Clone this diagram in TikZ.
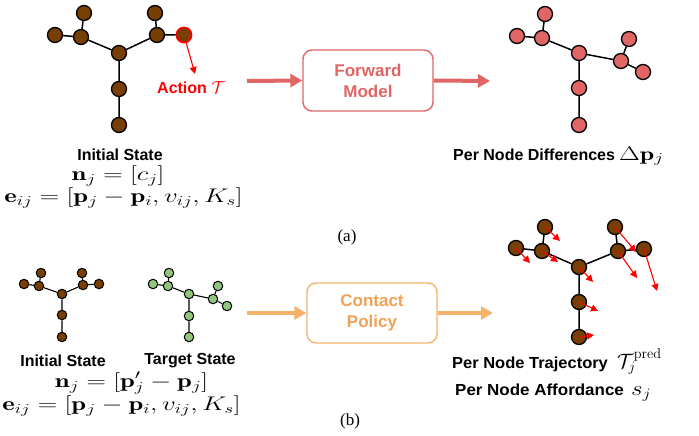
\documentclass[tikz,border=0pt]{standalone}
\usepackage{fontspec}
\usepackage{graphicx}
\usetikzlibrary{arrows.meta}
\newfontfamily\labfont{Liberation Sans}
\newfontfamily\capfont{Liberation Serif}
\definecolor{brownc}{HTML}{783F04}
\definecolor{pinkc}{HTML}{E06666}
\definecolor{greenc}{HTML}{93C47D}
\definecolor{orangec}{HTML}{F6B26B}
\definecolor{orangetxt}{HTML}{EFA155}
% wide set formulas
\newcommand{\wideeq}[1]{\scalebox{1.3}[0.95]{$#1$}}
\tikzset{
  gnode/.style={circle, draw=black, line width=1.3pt, minimum size=15pt, inner sep=0pt},
  bn/.style={gnode, fill=brownc},
  pn/.style={gnode, fill=pinkc},
  sbn/.style={gnode, fill=brownc, minimum size=9.5pt, line width=1pt},
  sgn/.style={gnode, fill=greenc, minimum size=9.5pt, line width=1pt},
  gedge/.style={line width=1.5pt, draw=black},
  sedge/.style={line width=1.1pt, draw=black},
  redarr/.style={draw=red, line width=1.1pt, -{Triangle[length=7pt,width=7pt]}},
  fatarr/.style={line width=4pt, -{Triangle[length=12pt,width=13pt]}},
  modelbox/.style={draw, line width=1.4pt, rounded corners=9pt, minimum width=130pt, minimum height=61pt, align=center, font=\labfont\bfseries\fontsize{17}{21}\selectfont},
  lab/.style={font=\labfont\bfseries\fontsize{16}{19}\selectfont, inner sep=0pt},
  eq/.style={font=\fontsize{20.5}{22}\selectfont, inner sep=0pt},
  captext/.style={font=\capfont\fontsize{17}{20}\selectfont, inner sep=0pt},
}
\begin{document}
\begin{tikzpicture}[x=1pt,y=-1pt]
\useasboundingbox (0,0) rectangle (699,436);

% ---- (a) initial state graph
\node[bn] (a1c)  at (119,53) {};
\node[bn] (a1lj) at (81,37) {};
\node[bn] (a1lu) at (84,13) {};
\node[bn] (a1l)  at (55,35) {};
\node[bn] (a1rj) at (157,35) {};
\node[bn] (a1ru) at (155,13) {};
\node[bn, draw=red, line width=1.8pt] (a1act) at (184,35) {};
\node[bn] (a1m)  at (119,89) {};
\node[bn] (a1b)  at (119,125) {};
\draw[gedge] (a1c) -- (a1lj) (a1lj) -- (a1lu) (a1lj) -- (a1l)
            (a1c) -- (a1rj) (a1rj) -- (a1ru) (a1rj) -- (a1act)
            (a1c) -- (a1m) (a1m) -- (a1b);
\coordinate (acttip) at (195,74);
\draw[redarr] (a1act) -- (acttip);
\node[lab, text=red, anchor=base west] (actlab) at (157,93) {Action {\fontsize{19}{22}\selectfont$\mathcal{T}$}};

% ---- (a) forward model
\node[modelbox, draw=pinkc, text=pinkc] (fm) at (368,80.5) {Forward\\Model};
\coordinate (fmin) at (247,81);
\coordinate (fmout) at (490,81);
\draw[fatarr, pinkc] (fmin) -- (fm.west);
\draw[fatarr, pinkc] (fm.east) -- (fmout);

% ---- (a) per-node differences graph
\node[pn] (a2c)  at (579,53) {};
\node[pn] (a2lj) at (542,38) {};
\node[pn] (a2t)  at (545,14) {};
\node[pn] (a2l)  at (517,36) {};
\node[pn] (a2rj) at (621,61) {};
\node[pn] (a2ru) at (629,39) {};
\node[pn] (a2rl) at (643,72) {};
\node[pn] (a2m)  at (579,88) {};
\node[pn] (a2b)  at (579,125) {};
\draw[gedge] (a2c) -- (a2lj) (a2lj) -- (a2t) (a2lj) -- (a2l)
            (a2c) -- (a2rj) (a2rj) -- (a2ru) (a2rj) -- (a2rl)
            (a2c) -- (a2m) (a2m) -- (a2b);

% ---- (a) labels
\node[lab] (a1name) at (120,155) {Initial State};
\node[eq] (a1n) at (118,175.5) {\wideeq{\mathbf{n}_j = [c_j]}};
\node[eq] (a1e) at (123.5,197.5) {\wideeq{\mathbf{e}_{ij} = [\mathbf{p}_j - \mathbf{p}_i, v_{ij}, K_s]}};
\node[lab, anchor=base west] (a2name) at (453,160) {Per Node Differences\hspace{4pt}{\fontsize{20}{22}\selectfont\wideeq{\Delta\mathbf{p}_j}}};
\node[captext] (capa) at (347,237) {(a)};

% ---- (b) initial state graph (small)
\node[sbn] (b1c)  at (62,294) {};
\node[sbn] (b1lj) at (39,286) {};
\node[sbn] (b1lu) at (41,273) {};
\node[sbn] (b1l)  at (24,284) {};
\node[sbn] (b1rj) at (83,285) {};
\node[sbn] (b1ru) at (82,273) {};
\node[sbn] (b1r)  at (99,284) {};
\node[sbn] (b1m)  at (62,315) {};
\node[sbn] (b1b)  at (62,337) {};
\draw[sedge] (b1c) -- (b1lj) (b1lj) -- (b1lu) (b1lj) -- (b1l)
             (b1c) -- (b1rj) (b1rj) -- (b1ru) (b1rj) -- (b1r)
             (b1c) -- (b1m) (b1m) -- (b1b);

% ---- (b) target state graph (small)
\node[sgn] (b2c)  at (189,294) {};
\node[sgn] (b2lj) at (168,286) {};
\node[sgn] (b2t)  at (169,273) {};
\node[sgn] (b2l)  at (153,284) {};
\node[sgn] (b2rj) at (213,299) {};
\node[sgn] (b2ru) at (218,286) {};
\node[sgn] (b2rl) at (227,306) {};
\node[sgn] (b2m)  at (189,316) {};
\node[sgn] (b2b)  at (189,337) {};
\draw[sedge] (b2c) -- (b2lj) (b2lj) -- (b2t) (b2lj) -- (b2l)
             (b2c) -- (b2rj) (b2rj) -- (b2ru) (b2rj) -- (b2rl)
             (b2c) -- (b2m) (b2m) -- (b2b);

% ---- (b) contact policy
\node[modelbox, draw=orangec, text=orangetxt, minimum height=60pt] (cp) at (372,313) {Contact\\Policy};
\coordinate (cpin) at (247,313);
\coordinate (cpout) at (493,313);
\draw[fatarr, orangec, line width=3.5pt] (cpin) -- (cp.west);
\draw[fatarr, orangec, line width=3.5pt] (cp.east) -- (cpout);

% ---- (b) predicted trajectories graph
\node[bn] (b3c)  at (579,267) {};
\node[bn] (b3lj) at (542,251) {};
\node[bn] (b3lu) at (545,227) {};
\node[bn] (b3l)  at (516,248) {};
\node[bn] (b3rj) at (618,251) {};
\node[bn] (b3ru) at (615,227) {};
\node[bn] (b3r)  at (644,249) {};
\node[bn] (b3m)  at (579,302) {};
\node[bn] (b3b)  at (579,337) {};
\draw[gedge] (b3c) -- (b3lj) (b3lj) -- (b3lu) (b3lj) -- (b3l)
            (b3c) -- (b3rj) (b3rj) -- (b3ru) (b3rj) -- (b3r)
            (b3c) -- (b3m) (b3m) -- (b3b);
\coordinate (t3lu) at (560,241);
\coordinate (t3l)  at (530,263);
\coordinate (t3lj) at (558,262);
\coordinate (t3c)  at (593,282);
\coordinate (t3m)  at (598,311);
\coordinate (t3b)  at (594,335);
\coordinate (t3ru) at (636,252);
\coordinate (t3rj) at (637,278);
\coordinate (t3r)  at (657,291);
\draw[redarr] (b3lu.center) -- (t3lu);
\draw[redarr] (b3l.center) -- (t3l);
\draw[redarr] (b3lj.center) -- (t3lj);
\draw[redarr] (b3c.center) -- (t3c);
\draw[redarr] (b3m.center) -- (t3m);
\draw[redarr] (b3b.center) -- (t3b);
\draw[redarr] (b3ru.center) -- (t3ru);
\draw[redarr] (b3rj.center) -- (t3rj);
\draw[redarr] (b3r.center) -- (t3r);

% ---- (b) labels
\node[lab] (b1name) at (63,361) {Initial State};
\node[lab] (b2name) at (190,361) {Target State};
\node[eq] (b1n) at (131.5,383.5) {\wideeq{\mathbf{n}_j = [\mathbf{p}'_j - \mathbf{p}_j]}};
\node[eq] (b1e) at (121.5,406) {\wideeq{\mathbf{e}_{ij} = [\mathbf{p}_j - \mathbf{p}_i, v_{ij}, K_s]}};
\node[lab, anchor=base west] (b3traj) at (452,368) {\scalebox{1.03}[1]{Per Node Trajectory}};
\node[eq, anchor=base west] (b3tm) at (617,368) {$\mathcal{T}_j^{\mathrm{pred}}$};
\node[lab, anchor=base west] (b3aff) at (455,395) {\scalebox{1.06}[1]{Per Node Affordance}};
\node[eq, anchor=base west] (b3sm) at (631,395) {\scalebox{1.2}[1]{$s_j$}};
\node[captext] (capb) at (350,421) {(b)};
\end{tikzpicture}
\end{document}
